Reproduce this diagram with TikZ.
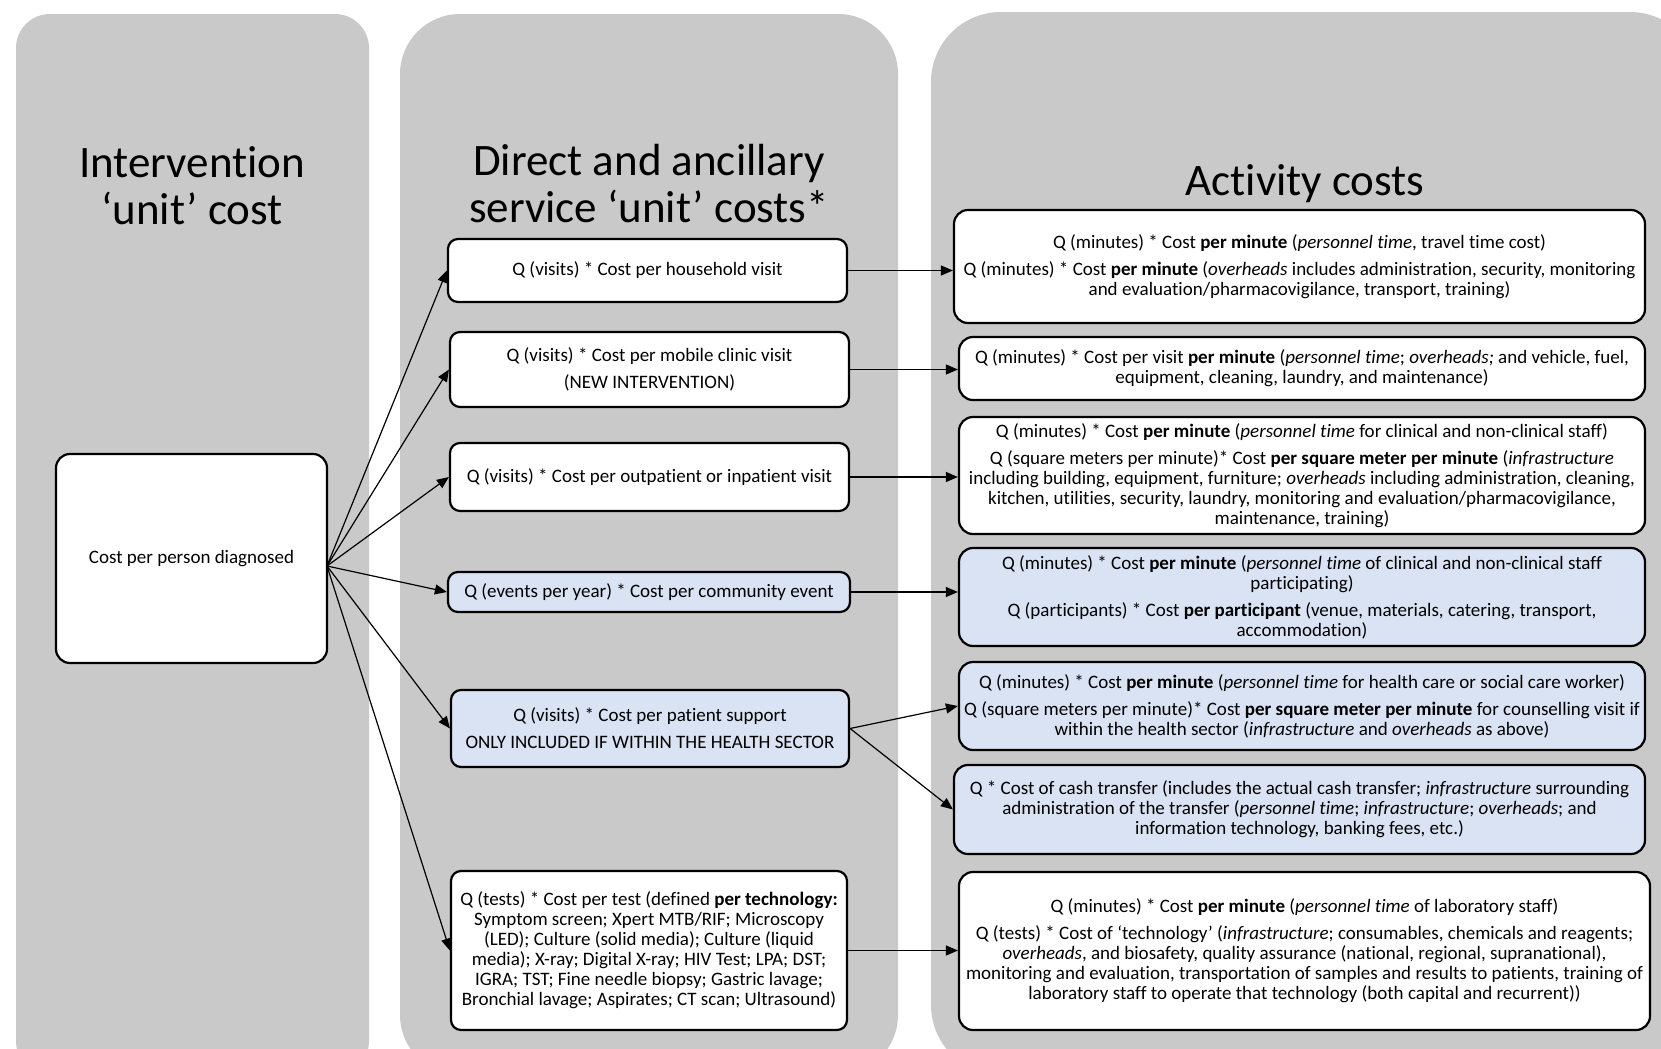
\documentclass[tikz,border=0pt]{standalone}
\usepackage{fontspec}
\setmainfont{Carlito}[Ligatures={TeX,NoCommon}]
\usetikzlibrary{arrows.meta}
\definecolor{colgrey}{RGB}{201,201,201}
\definecolor{boxblue}{RGB}{218,227,243}
\tikzset{
  costbox/.style={draw, line width=1.1pt, fill=white, rounded corners=7pt, align=center,
                  inner sep=2pt, font=\fontsize{9.5}{10}\selectfont},
  servbox/.style={costbox, rounded corners=5pt},
  bluebox/.style={fill=boxblue},
  coltitle/.style={align=center, font=\fontsize{22.5}{23.5}\selectfont},
  link/.style={-{Triangle[length=6pt,width=5pt]}, line width=0.6pt},
}

\begin{document}
\begin{tikzpicture}[x=0.5pt,y=-0.5pt]
\useasboundingbox (0,0) rectangle (1661,1049);
\begin{scope}
\clip (0,0) rectangle (1661,1049);
\fill[colgrey, rounded corners=17pt] (16,14) rectangle (369,1075);
\fill[colgrey, rounded corners=30pt] (400,14) rectangle (898,1075);
\fill[colgrey, rounded corners=35pt] (931,12) rectangle (1700,1075);
\end{scope}

\node[coltitle] (t1) at (192,186) {Intervention\\‘unit’ cost};
\node[coltitle] (t2) at (649,184) {Direct and ancillary\\service ‘unit’ costs*};
\node[coltitle] (t3) at (1305,184) {Activity costs};

% intervention
\node[costbox, minimum width=135.5pt, minimum height=104.5pt] (diag) at (191.5,558.5) {Cost per person diagnosed};
\coordinate (fan) at (327,566);

% services
\node[servbox, minimum width=199.5pt, minimum height=31.5pt] (hh) at (647.5,270.5)
  {Q (visits) * Cost per household visit};
\node[servbox, minimum width=199.5pt, minimum height=37.5pt] (mob) at (649.5,369.5)
  {Q (visits) * Cost per mobile clinic visit\\[3.5pt] (NEW INTERVENTION)};
\node[servbox, minimum width=199.5pt, minimum height=34pt] (opd) at (649.5,477)
  {Q (visits) * Cost per outpatient or inpatient visit};
\node[servbox, bluebox, minimum width=201pt, minimum height=20pt] (evt) at (649,592)
  {Q (events per year) * Cost per community event};
\node[servbox, bluebox, minimum width=199pt, minimum height=38.5pt] (sup) at (650,728.5)
  {Q (visits) * Cost per patient support\\[3.5pt] ONLY INCLUDED IF WITHIN THE HEALTH SECTOR};
\node[servbox, minimum width=198pt, minimum height=79.5pt] (tst) at (649,950.5)
  {Q (tests) * Cost per test (defined \textbf{per technology:}\\
   Symptom screen; Xpert MTB/RIF; Microscopy\\
   (LED); Culture (solid media); Culture (liquid\\
   media); X-ray; Digital X-ray; HIV Test; LPA; DST;\\
   IGRA; TST; Fine needle biopsy; Gastric lavage;\\
   Bronchial lavage; Aspirates; CT scan; Ultrasound)};

% activities
\node[costbox, minimum width=345.5pt, minimum height=56.5pt] (act1) at (1299.5,266.5)
  {Q (minutes) * Cost \textbf{per minute} (\textit{personnel time}, travel time cost)\\[3.5pt]
   Q (minutes) * Cost \textbf{per minute} (\textit{overheads} includes administration, security, monitoring\\
   and evaluation/pharmacovigilance, transport, training)};
\node[costbox, minimum width=343pt, minimum height=31.5pt] (act2) at (1302,368.5)
  {Q (minutes) * Cost per visit \textbf{per minute} (\textit{personnel time}; \textit{overheads;} and vehicle, fuel,\\
   equipment, cleaning, laundry, and maintenance)};
\node[costbox, minimum width=343pt, minimum height=58.5pt] (act3) at (1302,475.5)
  {Q (minutes) * Cost \textbf{per minute} (\textit{personnel time} for clinical and non-clinical staff)\\[3.5pt]
   Q (square meters per minute)* Cost \textbf{per square meter per minute} (\textit{infrastructure}\\
   including building, equipment, furniture; \textit{overheads} including administration, cleaning,\\
   kitchen, utilities, security, laundry, monitoring and evaluation/pharmacovigilance,\\
   maintenance, training)};
\node[costbox, bluebox, minimum width=343pt, minimum height=49pt] (act4) at (1302,597)
  {Q (minutes) * Cost \textbf{per minute} (\textit{personnel time} of clinical and non-clinical staff\\
   participating)\\[3.5pt]
   Q (participants) * Cost \textbf{per participant} (venue, materials, catering, transport,\\
   accommodation)};
\node[costbox, bluebox, minimum width=343pt, minimum height=44pt] (act5) at (1302,706)
  {Q (minutes) * Cost \textbf{per minute} (\textit{personnel time} for health care or social care worker)\\[3.5pt]
   Q (square meters per minute)* Cost \textbf{per square meter per minute} for counselling visit if\\
   within the health sector (\textit{infrastructure} and \textit{overheads} as above)};
\node[costbox, bluebox, minimum width=345.5pt, minimum height=44.5pt] (act6) at (1299.5,809.5)
  {Q * Cost of cash transfer (includes the actual cash transfer; \textit{infrastructure} surrounding\\
   administration of the transfer (\textit{personnel time}; \textit{infrastructure}; \textit{overheads}; and\\
   information technology, banking fees, etc.)};
\node[costbox, minimum width=345.5pt, minimum height=79pt] (act7) at (1304.5,951)
  {Q (minutes) * Cost \textbf{per minute} (\textit{personnel time} of laboratory staff)\\[3.5pt]
   Q (tests) * Cost of ‘technology’ (\textit{infrastructure}; consumables, chemicals and reagents;\\
   \textit{overheads}, and biosafety, quality assurance (national, regional, supranational),\\
   monitoring and evaluation, transportation of samples and results to patients, training of\\
   laboratory staff to operate that technology (both capital and recurrent))};

\path[link]
    (fan) edge (hh.west)
    (fan) edge (mob.west)
    (fan) edge (opd.west)
    (fan) edge (evt.west)
    (fan) edge (sup.west)
    (fan) edge (tst.west);
\path[link]
    (hh.east)  edge (hh.east -| act1.west)
    (mob.east) edge (mob.east -| act2.west)
    (opd.east) edge (opd.east -| act3.west)
    (evt.east) edge (evt.east -| act4.west)
    (sup.east) edge (act5.west)
    (sup.east) edge (act6.west)
    (tst.east) edge (tst.east -| act7.west);
\end{tikzpicture}
\end{document}
